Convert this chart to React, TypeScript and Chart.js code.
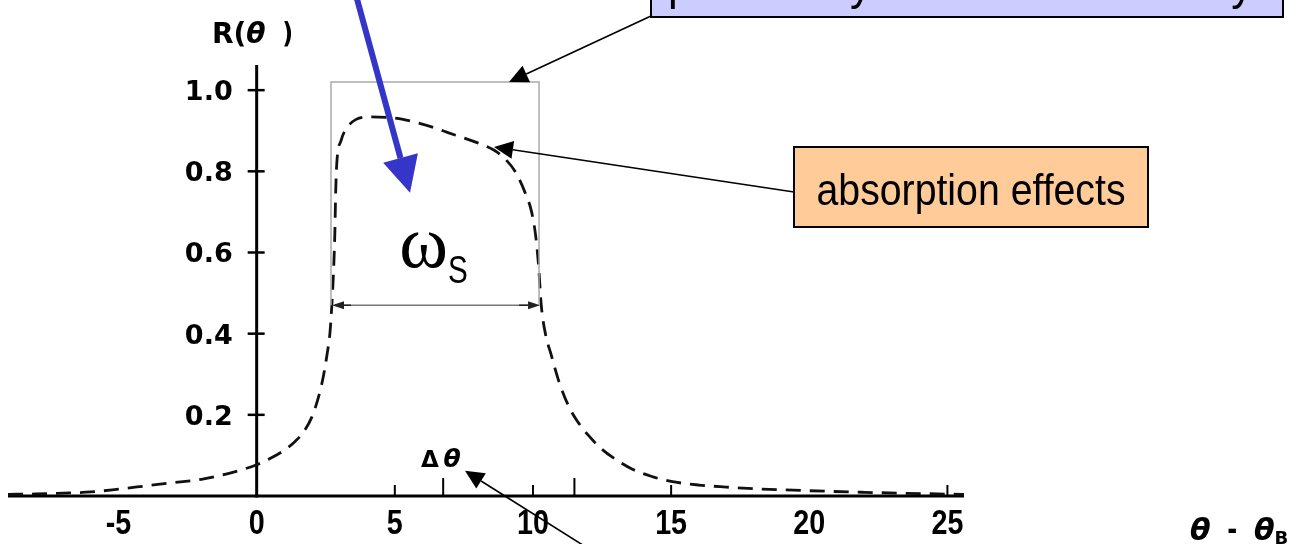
import React, { useEffect, useRef } from "react";
import { Chart, registerables } from "chart.js";

Chart.register(...registerables);

// Angular offset from the Bragg angle (θ − θB) and reflectivity R(θ) of the Darwin curve
const thetaOffset = [
  -9, -8, -7, -6, -5, -4, -3, -2, -1, 0,
  0.5, 1.0, 1.4, 1.7, 2.0, 2.2, 2.4, 2.55, 2.65, 2.72,
  2.78, 2.83, 2.86, 2.9, 3.05, 3.3, 3.6, 4.0, 4.7, 5.3,
  5.8, 6.4, 6.9, 7.5, 8.0, 8.6, 9.0, 9.35, 9.7, 9.95,
  10.1, 10.2, 10.3, 10.45, 10.65, 10.95, 11.3, 11.6, 12.0, 12.5,
  13.0, 13.6, 14.3, 15.0, 16.0, 17.0, 18.0, 20.0, 22.0, 24.0,
  25.6,
];
const reflectivity = [
  0.004, 0.005, 0.007, 0.01, 0.017, 0.025, 0.033, 0.041, 0.056, 0.077,
  0.093, 0.113, 0.135, 0.158, 0.195, 0.235, 0.29, 0.35, 0.4, 0.47,
  0.55, 0.65, 0.75, 0.82, 0.875, 0.91, 0.928, 0.934, 0.933, 0.928,
  0.92, 0.908, 0.896, 0.882, 0.87, 0.852, 0.83, 0.8, 0.75, 0.7,
  0.64, 0.57, 0.47, 0.4, 0.35, 0.28, 0.22, 0.185, 0.15, 0.115,
  0.09, 0.066, 0.048, 0.036, 0.027, 0.022, 0.018, 0.013, 0.009, 0.006,
  0.004,
];

// Axis labelling
const xTickLabels = [-5, 0, 5, 10, 15, 20, 25];
const yTickLabels = [0.2, 0.4, 0.6, 0.8, 1.0];
const xMarksShort = [5, 10, 15, 25];
const xMarksLong = [6.75, 11.5];

const X_MIN = -9;
const X_MAX = 25.6;
const Y_MIN = 0;
const Y_MAX = 1.062;

// Plateau box of the total-reflection region (data units)
const plateauBox = { x0: 2.69, x1: 10.22, y0: 0.47, y1: 1.02 };

const SANS = '"Liberation Sans", Arial, Helvetica, sans-serif';
const DEJAVU = '"DejaVu Sans", Verdana, sans-serif';
const SERIF = '"Liberation Serif", "Times New Roman", serif';

type Part = { text: string; font: string; dy?: number; sx?: number };

function partsWidth(ctx: CanvasRenderingContext2D, parts: Part[]) {
  let w = 0;
  for (const p of parts) {
    ctx.font = p.font;
    w += ctx.measureText(p.text).width * (p.sx ?? 1);
  }
  return w;
}

function drawParts(ctx: CanvasRenderingContext2D, parts: Part[], x: number, y: number) {
  let cx = x;
  ctx.textAlign = "left";
  ctx.textBaseline = "alphabetic";
  for (const p of parts) {
    ctx.font = p.font;
    const sx = p.sx ?? 1;
    ctx.save();
    ctx.translate(cx, y + (p.dy ?? 0));
    ctx.scale(sx, 1);
    ctx.fillText(p.text, 0, 0);
    ctx.restore();
    cx += ctx.measureText(p.text).width * sx;
  }
}

function arrow(
  ctx: CanvasRenderingContext2D,
  x1: number, y1: number, x2: number, y2: number,
  color: string, width: number, headLen: number, headHalf: number
) {
  const a = Math.atan2(y2 - y1, x2 - x1);
  const bx = x2 - headLen * Math.cos(a);
  const by = y2 - headLen * Math.sin(a);
  ctx.save();
  ctx.strokeStyle = color;
  ctx.fillStyle = color;
  ctx.lineWidth = width;
  ctx.lineCap = "butt";
  ctx.beginPath();
  ctx.moveTo(x1, y1);
  ctx.lineTo(bx, by);
  ctx.stroke();
  ctx.beginPath();
  ctx.moveTo(x2, y2);
  ctx.lineTo(bx + headHalf * Math.sin(a), by - headHalf * Math.cos(a));
  ctx.lineTo(bx - headHalf * Math.sin(a), by + headHalf * Math.cos(a));
  ctx.closePath();
  ctx.fill();
  ctx.restore();
}

const decorPlugin = {
  id: "darwinDecor",
  beforeDatasetsDraw(chart: any) {
    const ctx: CanvasRenderingContext2D = chart.ctx;
    const xs = chart.scales.x;
    const ys = chart.scales.y;
    const px = (v: number) => xs.getPixelForValue(v);
    const py = (v: number) => ys.getPixelForValue(v);
    const x0 = px(0);
    const y0 = py(0);

    ctx.save();
    ctx.strokeStyle = "#000";
    ctx.fillStyle = "#000";

    // axis lines
    ctx.lineWidth = 3;
    ctx.beginPath();
    ctx.moveTo(px(X_MIN), y0);
    ctx.lineTo(px(X_MAX), y0);
    ctx.stroke();
    ctx.beginPath();
    ctx.moveTo(x0, py(Y_MAX));
    ctx.lineTo(x0, y0 + 1.5);
    ctx.stroke();

    // y ticks crossing the axis, with labels
    ctx.lineWidth = 2.5;
    for (const v of yTickLabels) {
      const y = py(v);
      ctx.beginPath();
      ctx.moveTo(x0 - 9, y);
      ctx.lineTo(x0 + 8, y);
      ctx.stroke();
      ctx.font = `bold 27px ${DEJAVU}`;
      ctx.textAlign = "right";
      ctx.textBaseline = "alphabetic";
      ctx.fillText(v.toFixed(1), x0 - 24, y + 10);
    }

    // x tick marks standing on the axis
    ctx.lineWidth = 2;
    for (const v of xMarksShort) {
      ctx.beginPath();
      ctx.moveTo(px(v), y0);
      ctx.lineTo(px(v), y0 - 11);
      ctx.stroke();
    }
    for (const v of xMarksLong) {
      ctx.beginPath();
      ctx.moveTo(px(v), y0);
      ctx.lineTo(px(v), y0 - 18);
      ctx.stroke();
    }

    // x labels
    for (const v of xTickLabels) {
      const parts: Part[] = [{ text: v < 0 ? `-${Math.abs(v)}` : `${v}`, font: `bold 35px ${SANS}`, sx: 0.82 }];
      const w = partsWidth(ctx, parts);
      drawParts(ctx, parts, px(v) - w / 2, y0 + 38);
    }

    // axis titles
    drawParts(
      ctx,
      [
        { text: "R(", font: `bold 28px ${DEJAVU}` },
        { text: "θ", font: `italic bold 28px ${DEJAVU}` },
        { text: "  )", font: `bold 28px ${DEJAVU}`, sx: 0.85 },
      ],
      212,
      43
    );
    drawParts(
      ctx,
      [
        { text: "θ", font: `italic bold 30px ${DEJAVU}` },
        { text: "  -  ", font: `bold 30px ${DEJAVU}`, sx: 0.8 },
        { text: "θ", font: `italic bold 30px ${DEJAVU}` },
        { text: "B", font: `bold 18px ${DEJAVU}`, dy: 4 },
      ],
      1190,
      540
    );
    ctx.restore();
  },
  afterDatasetsDraw(chart: any) {
    const ctx: CanvasRenderingContext2D = chart.ctx;
    const xs = chart.scales.x;
    const ys = chart.scales.y;
    const px = (v: number) => xs.getPixelForValue(v);
    const py = (v: number) => ys.getPixelForValue(v);

    ctx.save();

    // plateau box
    const bx0 = px(plateauBox.x0);
    const bx1 = px(plateauBox.x1);
    const by0 = py(plateauBox.y0);
    const by1 = py(plateauBox.y1);
    ctx.strokeStyle = "#ababab";
    ctx.lineWidth = 1.5;
    ctx.beginPath();
    ctx.moveTo(bx0, by0);
    ctx.lineTo(bx0, by1);
    ctx.lineTo(bx1, by1);
    ctx.lineTo(bx1, by0);
    ctx.stroke();
    // width of the plateau (double-headed arrow)
    ctx.strokeStyle = "#777";
    ctx.lineWidth = 1.5;
    ctx.beginPath();
    ctx.moveTo(bx0 + 4, by0);
    ctx.lineTo(bx1 - 4, by0);
    ctx.stroke();
    arrow(ctx, bx0 + 20, by0, bx0 + 1, by0, "#222", 1.5, 12, 4);
    arrow(ctx, bx1 - 20, by0, bx1 + 1, by0, "#222", 1.5, 12, 4);

    ctx.fillStyle = "#000";
    // ω_S inside the plateau
    drawParts(
      ctx,
      [
        { text: "ω", font: `74px ${SERIF}` },
        { text: "S", font: `38px ${SANS}`, dy: 16, sx: 0.78 },
      ],
      px(5.16),
      py(0.564)
    );

    // Δθ label
    drawParts(
      ctx,
      [
        { text: "Δ", font: `bold 23px ${DEJAVU}` },
        { text: "\u2009", font: `bold 23px ${DEJAVU}` },
        { text: "θ", font: `italic bold 25px ${DEJAVU}` },
      ],
      px(5.95),
      py(0.071)
    );
    arrow(ctx, px(12.25), py(-0.14), px(7.54), py(0.062), "#000", 1.6, 19, 9);

    // callout: absorption effects
    ctx.fillStyle = "#ffcc99";
    ctx.fillRect(794, 147, 354, 80);
    ctx.strokeStyle = "#000";
    ctx.lineWidth = 2;
    ctx.strokeRect(794, 147, 354, 80);
    ctx.fillStyle = "#000";
    {
      ctx.font = `44px ${SANS}`;
      const w = ctx.measureText("absorption effects").width;
      const sx = 309 / w;
      drawParts(ctx, [{ text: "absorption effects", font: `44px ${SANS}`, sx }], 971 - 309 / 2, 205);
    }
    arrow(ctx, 794, 192, px(8.59), py(0.86), "#000", 1.6, 19, 9);

    // callout at the top edge
    ctx.fillStyle = "#ccccff";
    ctx.fillRect(651, -40, 632, 57);
    ctx.save();
    ctx.beginPath();
    ctx.rect(651, -40, 632, 57);
    ctx.clip();
    ctx.fillStyle = "#000";
    {
      ctx.font = `48px ${SANS}`;
      const t = "perfect crystal: total reflectivity";
      const w = ctx.measureText(t).width;
      drawParts(ctx, [{ text: t, font: `48px ${SANS}`, sx: 585 / w }], 668, -1);
    }
    ctx.restore();
    ctx.strokeStyle = "#000";
    ctx.lineWidth = 2;
    ctx.strokeRect(651, -40, 632, 57);
    arrow(ctx, 651, 16, bx1 - 30, by1, "#000", 1.6, 19, 9);

    // blue pointer into the plateau
    arrow(ctx, px(3.59), py(1.235), px(5.55), py(0.747), "#3535c8", 6, 36, 18);

    ctx.restore();
  },
};

export default function App() {
  const canvasRef = useRef<HTMLCanvasElement | null>(null);

  useEffect(() => {
    const canvas = canvasRef.current;
    if (!canvas) return;
    const points = thetaOffset.map((x, i) => ({ x, y: reflectivity[i] }));
    const chart = new Chart(canvas, {
      type: "scatter",
      data: {
        datasets: [
          {
            data: points,
            showLine: true,
            borderColor: "#111",
            borderWidth: 2.8,
            borderDash: [15, 9],
            pointRadius: 0,
            fill: false,
            cubicInterpolationMode: "monotone",
          } as any,
        ],
      },
      options: {
        animation: false,
        responsive: true,
        maintainAspectRatio: false,
        events: [],
        layout: { padding: { left: 8, right: 343, top: 65, bottom: 48 } },
        scales: {
          x: { type: "linear", min: X_MIN, max: X_MAX, display: false },
          y: { type: "linear", min: Y_MIN, max: Y_MAX, display: false },
        },
        plugins: {
          legend: { display: false },
          tooltip: { enabled: false },
        },
      },
      plugins: [decorPlugin],
    });
    return () => chart.destroy();
  }, []);

  return (
    <div style={{ position: "absolute", left: 0, top: 0, width: 1307, height: 544, background: "#fff" }}>
      <canvas ref={canvasRef} />
    </div>
  );
}
